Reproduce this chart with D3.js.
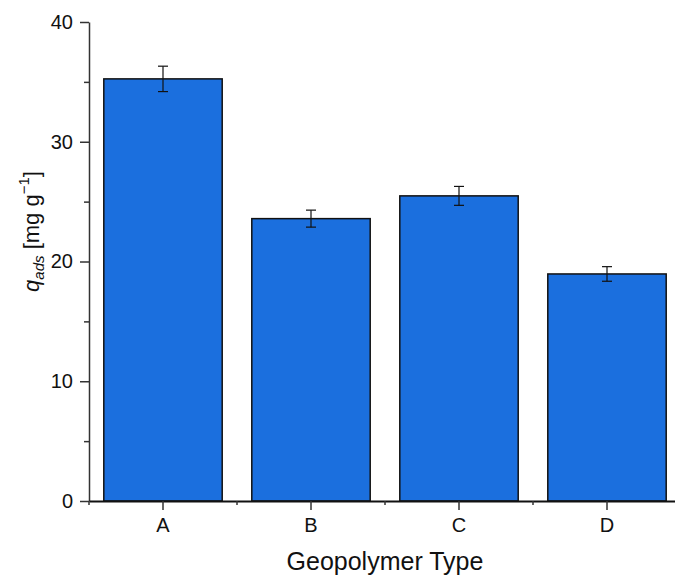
<!DOCTYPE html>
<html>
<head>
<meta charset="utf-8">
<script src="https://cdn.jsdelivr.net/npm/d3@7"></script>
<style>
  body { margin: 0; background: #fff; }
  text { font-family: Arial, "Liberation Sans", sans-serif; fill: #111; }
</style>
</head>
<body>
<svg id="bar-chart"></svg>
<script>
const categories = ["A", "B", "C", "D"];
const values = [35.25, 23.58, 25.48, 18.96];
const errors = [1.06, 0.71, 0.79, 0.61];
const yTicks = [0, 10, 20, 30, 40];
const yMinorTicks = [5, 15, 25, 35];

const margin = { top: 22, right: -6, bottom: 75, left: 89 };
const W = 675, H = 576;
const width = W - margin.left - margin.right;
const height = H - margin.top - margin.bottom;

const data = categories.map((c, i) => ({ cat: c, value: values[i], err: errors[i] }));

const svg = d3.select("#bar-chart")
  .attr("width", W)
  .attr("height", H);

const g = svg.append("g")
  .attr("transform", `translate(${margin.left},${margin.top})`);

const xScale = d3.scaleBand()
  .domain(categories)
  .range([0, width])
  .paddingInner(0.2)
  .paddingOuter(0.1);

const yScale = d3.scaleLinear()
  .domain([0, 40])
  .range([height, 0]);

// bars
g.selectAll("rect.bar")
  .data(data)
  .enter()
  .append("rect")
  .attr("class", "bar")
  .attr("x", d => xScale(d.cat))
  .attr("y", d => yScale(d.value))
  .attr("width", xScale.bandwidth())
  .attr("height", d => yScale(0) - yScale(d.value))
  .attr("fill", "#1b6fde")
  .attr("stroke", "#111")
  .attr("stroke-width", 1.5);

// error bars
const cap = 5;
const eb = g.selectAll("g.err")
  .data(data)
  .enter()
  .append("g")
  .attr("class", "err")
  .attr("stroke", "#111")
  .attr("stroke-width", 1.2);

eb.append("line")
  .attr("x1", d => xScale(d.cat) + xScale.bandwidth() / 2)
  .attr("x2", d => xScale(d.cat) + xScale.bandwidth() / 2)
  .attr("y1", d => yScale(d.value + d.err))
  .attr("y2", d => yScale(d.value - d.err));

eb.append("line")
  .attr("x1", d => xScale(d.cat) + xScale.bandwidth() / 2 - cap)
  .attr("x2", d => xScale(d.cat) + xScale.bandwidth() / 2 + cap)
  .attr("y1", d => yScale(d.value + d.err))
  .attr("y2", d => yScale(d.value + d.err));

eb.append("line")
  .attr("x1", d => xScale(d.cat) + xScale.bandwidth() / 2 - cap)
  .attr("x2", d => xScale(d.cat) + xScale.bandwidth() / 2 + cap)
  .attr("y1", d => yScale(d.value - d.err))
  .attr("y2", d => yScale(d.value - d.err));

// y axis
const yAxis = g.append("g")
  .call(d3.axisLeft(yScale).tickValues(yTicks).tickSize(9).tickPadding(7).tickSizeOuter(0));
yAxis.select(".domain").attr("stroke", "#333").attr("stroke-width", 1.5);
yAxis.selectAll(".tick line").attr("stroke", "#333").attr("stroke-width", 1.5);
yAxis.selectAll(".tick text")
  .style("font-size", "20px")
  .style("font-family", "Arial, 'Liberation Sans', sans-serif")
  .attr("fill", "#111");

g.append("g")
  .call(d3.axisLeft(yScale).tickValues(yMinorTicks).tickSize(5).tickFormat(""))
  .call(s => s.select(".domain").remove())
  .selectAll(".tick line").attr("stroke", "#333").attr("stroke-width", 1.5);

// x axis
const xAxis = g.append("g")
  .attr("transform", `translate(0,${height})`)
  .call(d3.axisBottom(xScale).tickSize(9).tickPadding(8).tickSizeOuter(0));
xAxis.select(".domain").attr("stroke", "#111").attr("stroke-width", 1.8);
xAxis.selectAll(".tick line").attr("stroke", "#333").attr("stroke-width", 1.5);
xAxis.selectAll(".tick text")
  .style("font-size", "20px")
  .style("font-family", "Arial, 'Liberation Sans', sans-serif")
  .attr("fill", "#111");

// minor x ticks at band boundaries
const bounds = d3.range(categories.length + 1).map(i => i * xScale.step());
g.append("g")
  .attr("transform", `translate(0,${height})`)
  .selectAll("line")
  .data(bounds)
  .enter()
  .append("line")
  .attr("x1", d => d)
  .attr("x2", d => d)
  .attr("y1", 0)
  .attr("y2", 4)
  .attr("stroke", "#333")
  .attr("stroke-width", 1.5);

// axis titles
g.append("text")
  .attr("x", width / 2)
  .attr("y", height + 69)
  .attr("text-anchor", "middle")
  .style("font-size", "25px")
  .text("Geopolymer Type");

const yTitle = g.append("text")
  .attr("transform", "rotate(-90)")
  .attr("x", -(height / 2 - 30))
  .attr("y", -50)
  .attr("text-anchor", "middle")
  .style("font-size", "22px");
yTitle.append("tspan").style("font-style", "italic").text("q");
yTitle.append("tspan").style("font-style", "italic").style("font-size", "15px").attr("dy", 5).text("ads");
yTitle.append("tspan").attr("dy", -5).text(" [mg g");
yTitle.append("tspan").style("font-size", "15px").attr("dy", -10).text("−1");
yTitle.append("tspan").attr("dy", 10).text("]");
</script>
</body>
</html>
